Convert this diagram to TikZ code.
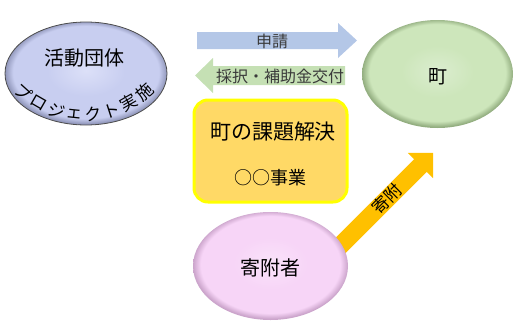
\documentclass[tikz,border=0pt]{standalone}
\usepackage{fontspec}
\setmainfont{Noto Sans CJK JP}
\usetikzlibrary{shapes.geometric}
\definecolor{bbase}{HTML}{C8CEF0}
\definecolor{brim}{HTML}{9096BA}
\definecolor{blight}{HTML}{DCE0F8}
\definecolor{gbase}{HTML}{CDE6BB}
\definecolor{grim}{HTML}{93AE80}
\definecolor{glight}{HTML}{DBEDCF}
\definecolor{pbase}{HTML}{F7D5F7}
\definecolor{prim}{HTML}{CBA4CB}
\definecolor{plight}{HTML}{FAE3FA}
\definecolor{arrblue}{HTML}{B4C7E7}
\definecolor{arrgreen}{HTML}{C5E0B4}
\definecolor{arrorange}{HTML}{FFC000}
\definecolor{boxfill}{HTML}{FFD966}
\definecolor{boxline}{HTML}{FFFF00}
\definecolor{arrtext}{HTML}{3A3A3A}
\pgfdeclareradialshading{bevelblue}{\pgfpoint{0bp}{1.5bp}}{color(0bp)=(blight);color(12bp)=(bbase);color(22.5bp)=(bbase);color(25bp)=(brim);color(40bp)=(brim)}
\pgfdeclareradialshading{bevelgreen}{\pgfpoint{0bp}{1.5bp}}{color(0bp)=(glight);color(12bp)=(gbase);color(22.5bp)=(gbase);color(25bp)=(grim);color(40bp)=(grim)}
\pgfdeclareradialshading{bevelpink}{\pgfpoint{0bp}{1.5bp}}{color(0bp)=(plight);color(12bp)=(pbase);color(22.5bp)=(pbase);color(25bp)=(prim);color(40bp)=(prim)}
\tikzset{
  oval/.style={ellipse, inner sep=0pt},
  lbl/.style={inner sep=0pt, text=black},
  arrlbl/.style={inner sep=0pt, text=arrtext},
  kadaibox/.style={draw=boxline, line width=3pt, fill=boxfill, rounded corners=14pt, inner sep=0pt},
}
\newcommand{\fs}[1]{\fontsize{#1}{#1}\selectfont}
\begin{document}
\begin{tikzpicture}[x=1pt,y=1pt]
\useasboundingbox (0,0) rectangle (515,-322);
% orange donation arrow (drawn under the ellipse)
\begin{scope}[shift={(335,-251)}, rotate=45]
  \fill[arrorange] (0,-9) -- (120.9,-9) -- (120.9,-17.7) -- (138.6,0) -- (120.9,17.7) -- (120.9,9) -- (0,9) -- cycle;
  \node[lbl, rotate=45, font=\fs{17}] (kifuT) at (73.5,0) {寄附};
\end{scope}
% ellipses
\node[oval, shading=bevelblue, draw=black!70, line width=0.8pt, minimum width=162pt, minimum height=103pt] (dantai) at (86,-73.5) {};
\node[oval, shading=bevelgreen, minimum width=151pt, minimum height=108pt] (machi) at (437.5,-74) {};
\node[oval, shading=bevelpink, minimum width=155pt, minimum height=108pt] (kifusha) at (270.5,-266) {};
% labels in ellipses
\node[lbl, font=\fs{20}] (dantaiT) at (85,-58) {活動団体};
\node[lbl, font=\fs{19}] (machiT) at (438,-77) {町};
\node[lbl, font=\fs{20}] (kifushaT) at (270,-268) {寄附者};
% arc text
\foreach \c [count=\i from 0] in {プ,ロ,ジ,ェ,ク,ト,実,施} {
  \pgfmathsetmacro\th{-42+\i*84/7}
  \node[lbl, rotate=\th, font=\fs{17}] (arc\i) at ({84+90*sin(\th)},{-(25+90*cos(\th))}) {\c};
}
% block arrows
\fill[arrblue] (197,-32) -- (338,-32) -- (338,-23) -- (357,-40.5) -- (338,-58) -- (338,-49) -- (197,-49) -- cycle;
\node[arrlbl, font=\fs{16}] (shinsei) at (272,-41) {申請};
\fill[arrgreen] (345,-66) -- (213,-66) -- (213,-58) -- (195,-75.5) -- (213,-93) -- (213,-85) -- (345,-85) -- cycle;
\node[arrlbl, font=\fs{16}] (saitaku) at (280,-76) {採択・補助金交付};
% box
\node[kadaibox, minimum width=153pt, minimum height=102pt] (kadai) at (270.5,-151) {};
\node[lbl, font=\fs{21}] (kadaiT) at (273,-132) {町の課題解決};
\node[lbl, font=\fs{18}] (jigyo) at (270,-178) {○○事業};
\end{tikzpicture}
\end{document}
